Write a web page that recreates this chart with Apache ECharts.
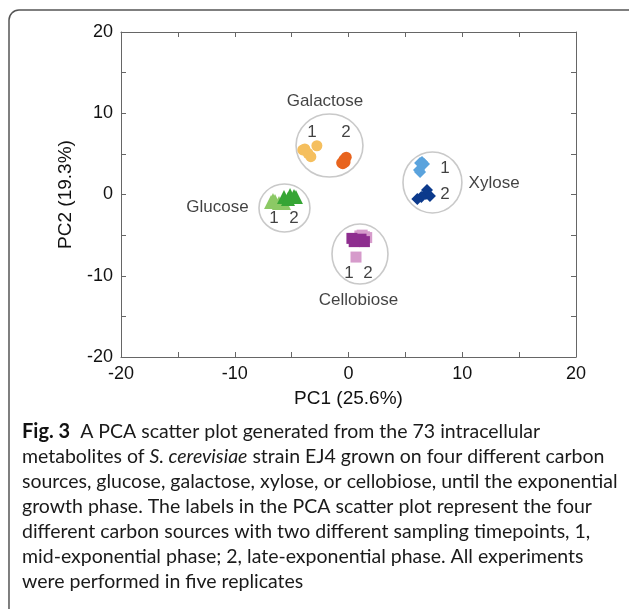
<!DOCTYPE html>
<html><head><meta charset="utf-8">
<script src="https://cdn.jsdelivr.net/npm/echarts@6/dist/echarts.min.js"></script>
<style>html,body{margin:0;padding:0;background:#fff}#c{width:629px;height:609px}</style>
</head><body><div id="c"></div>
<script>
// ---- data (PC1, PC2) ----
const galactose1 = [[-3.84,5.6],[-2.78,6.0],[-3.31,4.65],[-3.56,5.07],[-4.02,5.48]];
const galactose2 = [[-0.5,3.8],[-0.3,4.0],[-0.2,4.6],[-0.4,4.3],[-0.6,3.9]];
const glucose1 = [[-6.81,-0.92],[-6.46,-0.8],[-6.11,-1.05],[-5.67,-1.05],[-6.64,-0.68]];
const glucose2 = [[-5.67,-0.31],[-5.14,-0.06],[-4.79,-0.18],[-5.32,-0.55],[-4.62,-0.31]];
const cellobiose1 = [[0.66,-7.7],[1.0,-5.1],[1.4,-5.2],[1.2,-5.0],[1.6,-5.3]];
const cellobiose2 = [[0.3,-5.4],[0.7,-5.6],[1.1,-5.5],[1.4,-5.8],[0.5,-5.8]];
const xylose1 = [[6.29,3.88],[6.46,4.0],[6.64,3.75],[6.29,2.77],[6.2,3.02]];
const xylose2 = [[6.9,0.55],[6.81,0.06],[7.16,-0.18],[6.4,-0.3],[6.05,-0.55]];
// group outline ellipses: [cx, cy, rx, ry] in data units
const groupEllipses = [[-1.67,6.03,2.94,3.88],[-5.63,-1.66,2.24,2.95],[1.01,-7.32,2.46,3.69],[7.38,1.48,2.59,3.75]];
// annotation texts at data coordinates
const groupLabels = [['Galactose',-2.07,11.5],['Glucose',-11.52,-1.6],['Cellobiose',0.88,-13.0],['Xylose',12.8,1.35]];
const timeLabels = [['1',-3.21,7.7],['2',-0.22,7.7],['1',-6.55,-2.9],['2',-4.79,-2.9],['1',0.04,-9.66],['2',1.71,-9.66],['1',8.48,3.26],['2',8.48,0.06]];
const axisMin = -20, axisMax = 20, tickStep = 5, labelStep = 10;
const xTitle = 'PC1 (25.6%)', yTitle = 'PC2 (19.3%)';
const captionLines = [
  '{b|Fig. 3}  A PCA scatter plot generated from the 73 intracellular',
  'metabolites of {i|S. cerevisiae} strain EJ4 grown on four different carbon',
  'sources, glucose, galactose, xylose, or cellobiose, until the exponential',
  'growth phase. The labels in the PCA scatter plot represent the four',
  'different carbon sources with two different sampling timepoints, 1,',
  'mid-exponential phase; 2, late-exponential phase. All experiments',
  'were performed in five replicates'
];

const chart = echarts.init(document.getElementById('c'), null, {renderer:'canvas'});
const FONT = 'Liberation Sans, Arial, sans-serif';
const CAP = 'Lato, sans-serif';
const axisColor = '#666';
function baseAxis(extra){
  return Object.assign({
    type:'value', min:axisMin, max:axisMax, interval:tickStep,
    axisLine:{show:true, onZero:false, lineStyle:{color:axisColor, width:1}},
    axisTick:{show:true, inside:true, length:5, lineStyle:{color:axisColor}},
    splitLine:{show:false},
    axisLabel:{show:true, color:'#111', fontSize:18, fontFamily:FONT, margin:8,
      formatter:v => (v % labelStep === 0 ? String(v) : '')}
  }, extra);
}
function markerSeries(data, symbol, size, color){
  return {type:'scatter', data, symbol, symbolSize:size, itemStyle:{color, opacity:1}, z:3, silent:true};
}
function labelSeries(list, size){
  return {type:'scatter', symbolSize:1, itemStyle:{color:'rgba(0,0,0,0)'}, silent:true, z:4,
    data:list.map(d => ({name:d[0], value:[d[1], d[2]]})),
    label:{show:true, position:'inside', formatter:'{b}', color:'#111', fontSize:size, fontFamily:FONT}};
}
const option = {
  animation:false,
  backgroundColor:'#fff',
  grid:{left:121, right:53, top:32, bottom:252},
  xAxis:[
    baseAxis({position:'bottom', name:xTitle, nameLocation:'middle', nameGap:32,
      nameTextStyle:{fontSize:19, color:'#111', fontFamily:FONT}}),
    baseAxis({position:'top', axisLabel:{show:false}})
  ],
  yAxis:[
    baseAxis({position:'left', name:yTitle, nameLocation:'middle', nameGap:46,
      nameTextStyle:{fontSize:19, color:'#111', fontFamily:FONT}}),
    baseAxis({position:'right', axisLabel:{show:false}})
  ],
  series:[
    {type:'custom', data:groupEllipses, z:2, silent:true,
      renderItem:(params, api) => {
        const c = api.coord([api.value(0), api.value(1)]);
        const s = api.size([api.value(2), api.value(3)]);
        return {type:'ellipse', shape:{cx:c[0], cy:c[1], rx:s[0], ry:s[1]},
          style:{fill:'none', stroke:'#c9c9c9', lineWidth:1.6}};
      }},
    markerSeries(galactose1,'circle',11,'#F5BF5E'),
    markerSeries(galactose2,'circle',11,'#E8641E'),
    markerSeries(glucose1,'triangle',14,'#8CC965'),
    markerSeries(glucose2,'triangle',14,'#36A535'),
    markerSeries(cellobiose1,'rect',11,'#D69BCB'),
    markerSeries(cellobiose2,'rect',11,'#8E2E8F'),
    markerSeries(xylose1,'diamond',12,'#5AA3DD'),
    markerSeries(xylose2,'diamond',12,'#0C3A8C'),
    labelSeries(groupLabels,17),
    labelSeries(timeLabels,17)
  ],
  graphic:[
    {type:'rect', silent:true, shape:{x:9, y:10, width:640, height:612, r:10},
      style:{fill:'none', stroke:'#555', lineWidth:1.5}},
    ...captionLines.map((t,i) => ({
      type:'text', silent:true, x:22, y:432 + i*25,
      style:{text:t, fill:'#1a1a1a', font:'19.5px ' + CAP, verticalAlign:'middle',
        rich:{
          b:{fontWeight:'bold', fontSize:20, fontFamily:CAP, fill:'#111'},
          i:{fontStyle:'italic', fontSize:19.5, fontFamily:CAP, fill:'#1a1a1a'}
        }}
    }))
  ]
};
chart.setOption(option);
</script>
</body></html>
